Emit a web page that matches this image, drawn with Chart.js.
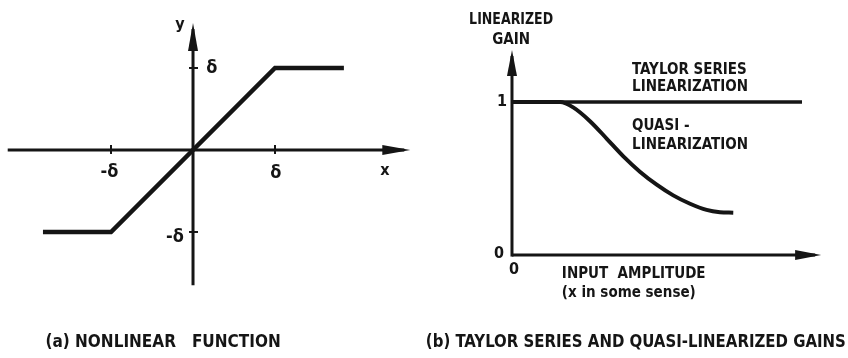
<!DOCTYPE html>
<html>
<head>
<meta charset="utf-8">
<script src="https://cdn.jsdelivr.net/npm/chart.js@4.4.1/dist/chart.umd.min.js"></script>
<style>
  html, body { margin: 0; padding: 0; background: #fff; }
  .wrap { display: flex; width: 848px; height: 358px; }
  .panel { width: 424px; height: 358px; }
</style>
</head>
<body>
<div class="wrap">
  <div class="panel"><canvas id="left" width="424" height="358"></canvas></div>
  <div class="panel"><canvas id="right" width="424" height="358"></canvas></div>
</div>
<script>
// (a) saturation nonlinearity, x and y in units of delta
const satX = [-1.83, -1, 1, 1.84];
const satY = [-1, -1, 1, 1];
const leftTickVals = [-1, 1];
const leftTickText = ['-δ', 'δ'];

// (b) linearized gain vs input amplitude
const taylorX = [0, 10];
const taylorY = [1, 1];
const quasiX = [0, 1.66, 2.11, 2.69, 3.27, 3.84, 4.41, 4.99, 5.56, 6.14, 6.71, 7.17, 7.63];
const quasiY = [1, 1, 0.965, 0.875, 0.760, 0.645, 0.545, 0.460, 0.390, 0.335, 0.295, 0.280, 0.277];
const rightTickVals = [0, 1];
const rightTickText = ['0', '1'];

const INK = '#151515';
const FONT = '"DejaVu Sans Condensed", "Liberation Sans Narrow", "DejaVu Sans", sans-serif';

function pts(xs, ys) {
    return xs.map((x, i) => ({ x, y: ys[i] }));
}

function arrow(ctx, x0, y0, x1, y1, len, half) {
    const a = Math.atan2(y1 - y0, x1 - x0);
    ctx.beginPath();
    ctx.moveTo(x1, y1);
    ctx.lineTo(x1 - len * Math.cos(a) + half * Math.sin(a), y1 - len * Math.sin(a) - half * Math.cos(a));
    ctx.lineTo(x1 - len * Math.cos(a) - half * Math.sin(a), y1 - len * Math.sin(a) + half * Math.cos(a));
    ctx.closePath();
    ctx.fill();
}

function text(ctx, s, x, y, size, align, maxW) {
    ctx.font = `bold ${size}px ${FONT}`;
    ctx.textAlign = align || 'center';
    ctx.textBaseline = 'middle';
    if (maxW) ctx.fillText(s, x, y, maxW);
    else ctx.fillText(s, x, y);
}

function axesPlugin(cfg) {
    return {
        id: 'sketchAxes',
        beforeDatasetsDraw(chart) {
            const { ctx } = chart;
            const sx = chart.scales.x, sy = chart.scales.y;
            const X = v => sx.getPixelForValue(v), Y = v => sy.getPixelForValue(v);
            ctx.save();
            ctx.strokeStyle = INK;
            ctx.fillStyle = INK;
            ctx.lineWidth = cfg.axisWidth;
            ctx.lineCap = 'butt';
            // x axis
            ctx.beginPath();
            ctx.moveTo(X(cfg.xAxis[0]), Y(0));
            ctx.lineTo(X(cfg.xAxis[1]) - 6, Y(0));
            ctx.stroke();
            arrow(ctx, X(cfg.xAxis[0]), Y(0), X(cfg.xAxis[1]), Y(0), cfg.arrowLen, cfg.arrowHalf);
            // y axis
            ctx.beginPath();
            ctx.moveTo(X(0), Y(cfg.yAxis[0]));
            ctx.lineTo(X(0), Y(cfg.yAxis[1]) + 6);
            ctx.stroke();
            arrow(ctx, X(0), Y(cfg.yAxis[0]), X(0), Y(cfg.yAxis[1]), cfg.arrowLen, cfg.arrowHalf);
            // tick marks
            if (cfg.tickMarks) {
                ctx.lineWidth = 2;
                cfg.tickMarks.x.forEach(v => {
                    ctx.beginPath();
                    ctx.moveTo(X(v), Y(0) - 5);
                    ctx.lineTo(X(v), Y(0) + 4);
                    ctx.stroke();
                });
                cfg.tickMarks.y.forEach(v => {
                    ctx.beginPath();
                    ctx.moveTo(X(0) - 4, Y(v));
                    ctx.lineTo(X(0) + 5, Y(v));
                    ctx.stroke();
                });
            }
            ctx.restore();
        },
        afterDraw(chart) {
            const { ctx } = chart;
            const sx = chart.scales.x, sy = chart.scales.y;
            ctx.save();
            ctx.fillStyle = INK;
            cfg.labels.forEach(l => {
                text(ctx, l.t, sx.getPixelForValue(l.x), sy.getPixelForValue(l.y), l.size, l.align, l.w);
            });
            ctx.restore();
        }
    };
}

function baseOptions(xr, yr) {
    return {
        responsive: false,
        animation: false,
        events: [],
        layout: { padding: 0 },
        plugins: { legend: { display: false }, tooltip: { enabled: false } },
        scales: {
            x: { type: 'linear', min: xr[0], max: xr[1], display: false },
            y: { type: 'linear', min: yr[0], max: yr[1], display: false }
        }
    };
}

// ---- (a) nonlinear function
new Chart(document.getElementById('left'), {
    type: 'scatter',
    data: {
        datasets: [{
            data: pts(satX, satY),
            showLine: true,
            borderColor: INK,
            borderWidth: 4.5,
            pointRadius: 0,
            tension: 0
        }]
    },
    options: baseOptions([-2.354, 2.817], [-2.537, 1.829]),
    plugins: [axesPlugin({
        axisWidth: 3,
        arrowLen: 28,
        arrowHalf: 5,
        xAxis: [-2.26, 2.65],
        yAxis: [-1.65, 1.55],
        tickMarks: { x: leftTickVals, y: leftTickVals },
        labels: [
            { t: 'y', x: -0.16, y: 1.52, size: 16 },
            { t: 'x', x: 2.34, y: -0.25, size: 16 },
            { t: leftTickText[1], x: 0.23, y: leftTickVals[1] - 0.01, size: 18 },
            { t: leftTickText[0], x: -0.22, y: leftTickVals[0] - 0.06, size: 18 },
            { t: leftTickText[0], x: leftTickVals[0] - 0.02, y: -0.27, size: 18 },
            { t: leftTickText[1], x: leftTickVals[1] + 0.01, y: -0.28, size: 18 },
            { t: '(a) NONLINEAR   FUNCTION', x: -1.80, y: -2.35, size: 17, align: 'left', w: 250 }
        ]
    })]
});

// ---- (b) Taylor series and quasi-linearized gains
new Chart(document.getElementById('right'), {
    type: 'scatter',
    data: {
        datasets: [
            {
                label: 'Taylor series linearization',
                data: pts(taylorX, taylorY),
                showLine: true,
                borderColor: INK,
                borderWidth: 3.5,
                pointRadius: 0
            },
            {
                label: 'Quasi-linearization',
                data: pts(quasiX, quasiY),
                showLine: true,
                borderColor: INK,
                borderWidth: 4,
                pointRadius: 0,
                cubicInterpolationMode: 'monotone'
            }
        ]
    },
    options: baseOptions([-3.034, 11.586], [-0.673, 1.667]),
    plugins: [axesPlugin({
        axisWidth: 3,
        arrowLen: 26,
        arrowHalf: 5,
        xAxis: [0, 10.66],
        yAxis: [-0.01, 1.34],
        labels: [
            { t: 'LINEARIZED', x: -0.03, y: 1.536, size: 15, w: 84 },
            { t: 'GAIN', x: -0.03, y: 1.405, size: 15, w: 42 },
            { t: 'TAYLOR SERIES', x: 4.14, y: 1.21, size: 15, align: 'left', w: 122 },
            { t: 'LINEARIZATION', x: 4.14, y: 1.10, size: 15, align: 'left', w: 132 },
            { t: 'QUASI -', x: 4.14, y: 0.84, size: 15, align: 'left', w: 66 },
            { t: 'LINEARIZATION', x: 4.14, y: 0.72, size: 15, align: 'left', w: 132 },
            { t: rightTickText[1], x: -0.34, y: rightTickVals[1], size: 16 },
            { t: rightTickText[0], x: -0.45, y: rightTickVals[0] + 0.005, size: 16 },
            { t: rightTickText[0], x: 0.07, y: -0.10, size: 16 },
            { t: 'INPUT  AMPLITUDE', x: 1.72, y: -0.124, size: 15, align: 'left', w: 157 },
            { t: '(x in some sense)', x: 1.72, y: -0.248, size: 15, align: 'left', w: 150 },
            { t: '(b) TAYLOR SERIES AND QUASI-LINEARIZED GAINS', x: -2.97, y: -0.575, size: 17, align: 'left', w: 420 }
        ]
    })]
});
</script>
</body>
</html>
